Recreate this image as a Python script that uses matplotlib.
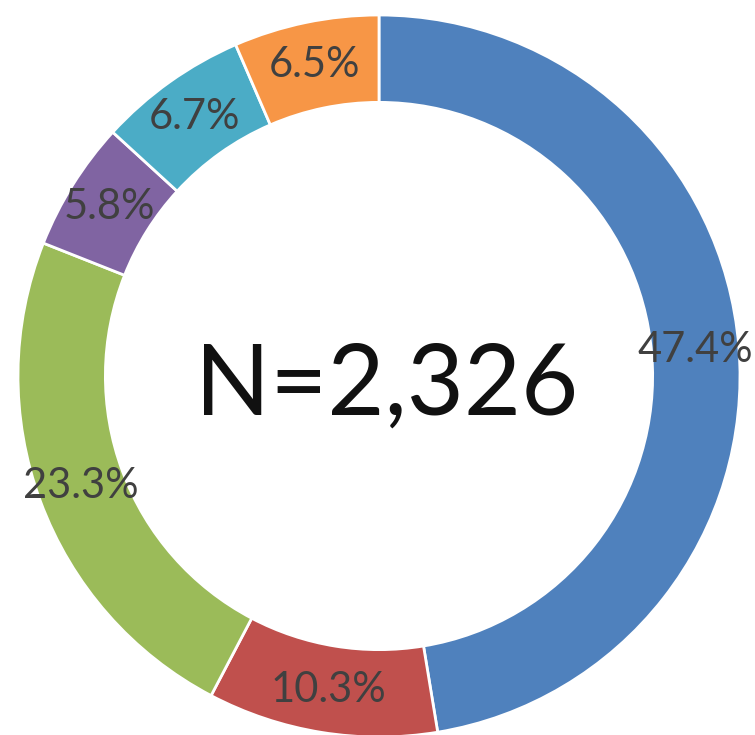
import matplotlib.pyplot as plt

# shares of the total, clockwise from 12 o'clock
labels = ["A", "B", "C", "D", "E", "F"]
shares = [47.4, 10.3, 23.3, 5.8, 6.7, 6.5]
colors = ["#4F81BD", "#C0504D", "#9BBB59", "#8064A2", "#4BACC6", "#F79646"]
total_n = 2326

plt.rcParams['font.family'] = ['Lato', 'DejaVu Sans']

fig = plt.figure(figsize=(7.55, 7.35), dpi=100)
# ring centre at about (379, 376) px, outer radius 361 px
ax = fig.add_axes([18 / 755, (735 - 376 - 361) / 735, 722 / 755, 722 / 735])

wedges, texts, autotexts = ax.pie(
    shares,
    colors=colors,
    startangle=90,
    counterclock=False,
    radius=1.0,
    autopct="%.1f%%",
    pctdistance=0.88,
    wedgeprops=dict(width=0.242, edgecolor="white", linewidth=2),
    textprops=dict(color="#404040", fontsize=30),
)

ax.text(0.02, -0.03, f"N={total_n:,}", ha="center", va="center",
        fontsize=71, color="#111111")

ax.set_xlim(-1, 1)
ax.set_ylim(-1, 1)
ax.set_aspect("equal")
ax.axis("off")

fig.savefig("out.png", dpi=100)
